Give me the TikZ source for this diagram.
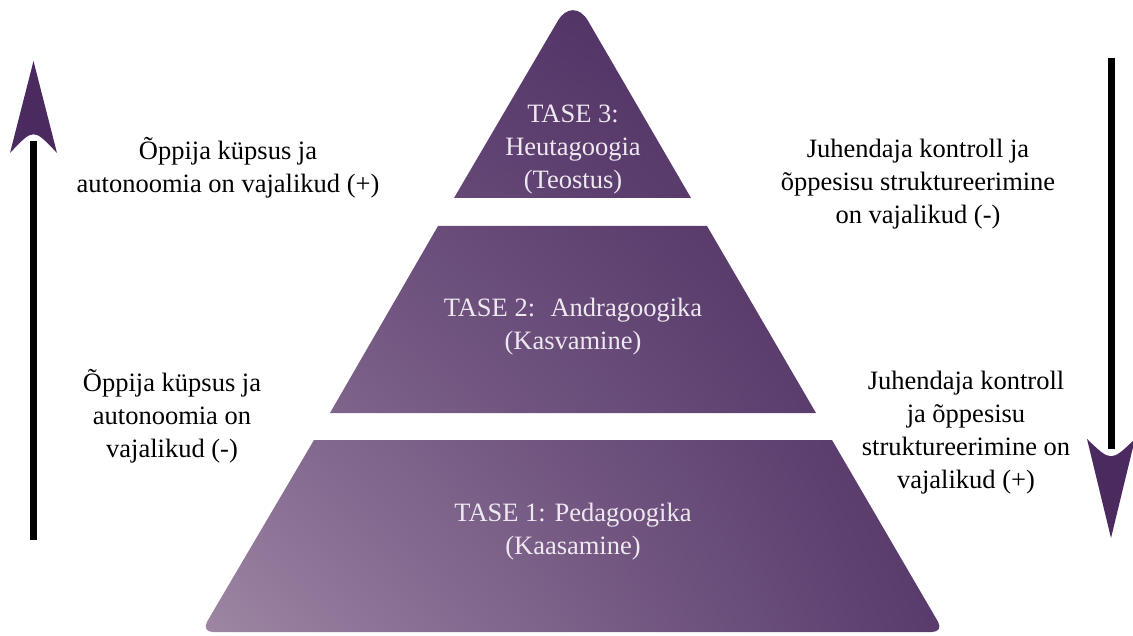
\documentclass[tikz,border=0pt]{standalone}
\usepackage{fontspec}
\usetikzlibrary{shadings}
\setmainfont{Liberation Serif}
\definecolor{arrowpurple}{RGB}{75,43,95}
\definecolor{pyrtext}{RGB}{238,232,240}
\definecolor{cLL}{RGB}{158,134,164}
\definecolor{cLR}{RGB}{88,58,108}
\definecolor{cUL}{RGB}{96,66,116}
\definecolor{cUR}{RGB}{70,38,90}
\tikzset{
  sidetext/.style={align=center, text=black, font=\fontsize{26.5}{33}\selectfont, inner sep=0pt},
  leveltext/.style={align=center, text=pyrtext, font=\fontsize{26.5}{33}\selectfont, inner sep=0pt},
  shaft/.style={line width=7pt, black},
  head/.style={fill=arrowpurple, draw=none}
}
\begin{document}
\begin{tikzpicture}[x=1pt,y=-1pt]
\useasboundingbox (0,0) rectangle (1133,636);

% pyramid levels with one common gradient
\begin{scope}
\clip (454,198) [rounded corners=30pt] -- (573,-5) [sharp corners] -- (691,198) -- cycle
      (438,226) -- (707,226) -- (816,413) -- (330,413) -- cycle
      (314,440) -- (832,440) [rounded corners=12pt] -- (944,632) -- (201,632) [sharp corners] -- cycle;
\shade[lower left=cLL, lower right=cLR, upper left=cUL, upper right=cUR] (201,0) rectangle (944,632);
\end{scope}

% level texts
\node[leveltext] (t3) at (573,150) {TASE 3:\\Heutagoogia\\(Teostus)};
\node[leveltext] (t2) at (573,327) {TASE 2:~ Andragoogika\\(Kasvamine)};
\node[leveltext] (t1) at (573,532) {TASE 1: Pedagoogika\\(Kaasamine)};

% side texts
\node[sidetext] (l1) at (228,168) {Õppija küpsus ja\\autonoomia on vajalikud (+)};
\node[sidetext] (r1) at (918,184) {Juhendaja kontroll ja\\õppesisu struktureerimine\\on vajalikud (-)};
\node[sidetext] (l2) at (172,416) {Õppija küpsus ja\\autonoomia on\\vajalikud (-)};
\node[sidetext] (r2) at (966,433) {Juhendaja kontroll\\ja õppesisu\\struktureerimine on\\vajalikud (+)};

% left arrow (up)
\coordinate (upStart) at (33.5,540);
\coordinate (upBack) at (33.5,141);
\coordinate (upTip) at (33.5,61);
\draw[shaft] (upStart) -- (upBack);
\fill[head] (upTip) -- (10,153) .. controls (33.5,128) .. (57,153) -- cycle;

% right arrow (down)
\coordinate (dnStart) at (1111,58);
\coordinate (dnBack) at (1111,449);
\coordinate (dnTip) at (1111,538);
\draw[shaft] (dnStart) -- (dnBack);
\fill[head] (dnTip) -- (1087,439) .. controls (1111,462) .. (1135,439) -- cycle;
\end{tikzpicture}
\end{document}
